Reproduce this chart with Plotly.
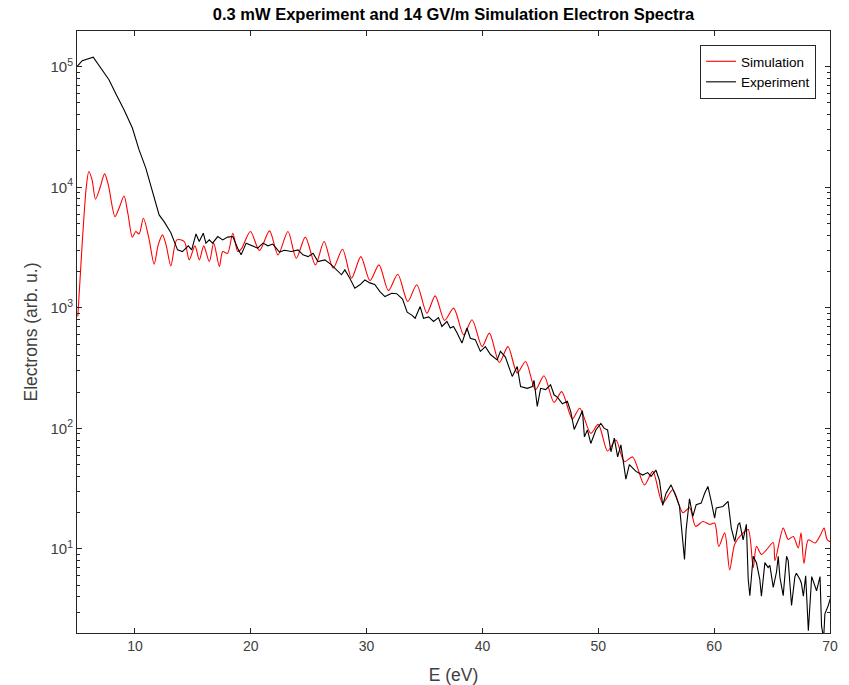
import plotly.graph_objects as go

# ---------------- data ----------------
sim_E = [5.07, 5.45, 5.8, 6.02, 6.3, 6.6, 7.0, 7.38, 7.7, 8.28, 8.7, 9.06, 9.4, 9.78,
         10.07, 10.36, 10.73, 11.2, 11.66, 12.0, 12.38, 12.7, 13.1, 13.62, 14.26, 14.69,
         15.18, 15.56, 15.94, 16.42, 16.8, 17.29, 17.58, 18.0, 18.45, 18.88, 19.2, 19.97,
         20.75, 21.62, 22.35, 23.21, 23.93, 24.71, 25.58, 26.33, 27.11, 27.92, 28.7, 29.5,
         30.29, 31.07, 31.88, 32.69, 33.55, 34.33, 35.2, 35.92, 36.73, 37.51, 38.38, 39.1,
         39.97, 40.6, 41.46, 42.2, 43.0, 43.72, 44.58, 45.31, 46.18, 46.84, 47.76, 48.4,
         49.35, 50.0, 50.8, 51.52, 52.25, 52.96, 53.98, 54.7, 55.56, 56.43, 57.3, 57.88,
         58.4, 59.03, 59.61, 60.04, 60.4, 60.91, 61.34, 61.78, 62.5, 62.94, 63.37, 63.65,
         64.08, 64.5, 65.1, 65.25, 65.96, 66.39, 66.83, 67.26, 67.5, 67.75, 68.13, 68.71,
         69.2, 69.49, 69.77, 70.3]
sim_val = [847, 3440, 10000, 13500, 11500, 7960, 10000, 12900, 10500, 5710, 7000, 8470, 6000, 3850,
           4290, 4100, 5540, 3800, 2300, 3300, 4030, 3300, 2230, 3660, 3545, 2500,
           3265, 2500, 3265, 2420, 3440, 2200, 2930, 2830, 4160, 2930, 3100, 4290,
           2985, 4345, 2750, 4290, 2580, 3855, 2270, 3545, 2130, 3065, 1762, 2660,
           1683, 2270, 1390, 1900, 1128, 1552, 904, 1257, 785, 995, 597, 796,
           477, 617, 352, 477, 288, 359, 209, 273, 164, 202, 120, 147,
           91, 108, 65, 80, 53, 58, 34, 44, 24, 31, 20, 22,
           15.4, 16.9, 16, 16.4, 10.5, 13.6, 6.7, 11, 13.6, 14.5, 7.0, 10.5,
           9.0, 9.8, 11.3, 8.0, 14.9, 12.0, 12.7, 10.2, 13.6, 7.6, 11.9, 11.2,
           13.2, 14.9, 11.9, 11.2]

exp_E = [5.0, 5.45, 6.4, 7.04, 7.76, 8.34, 9.06, 9.78, 10.36, 10.94, 11.52, 12.09, 12.52,
         13.1, 13.68, 14.1, 14.6, 14.9, 15.27, 15.55, 15.9, 16.13, 16.42, 16.7, 17.15,
         17.58, 18.0, 18.45, 18.88, 19.17, 19.6, 20.03, 20.6, 21.05, 21.48, 21.9, 22.48,
         22.9, 23.5, 24.08, 24.5, 24.95, 25.38, 25.8, 26.4, 26.97, 27.4, 27.83, 28.12,
         28.55, 28.98, 29.42, 29.85, 30.28, 30.7, 31.15, 31.58, 32.17, 32.6, 33.1, 33.5,
         33.9, 34.19, 34.62, 34.91, 35.35, 35.78, 36.2, 36.5, 36.93, 37.22, 37.5, 37.8,
         38.23, 38.66, 38.95, 39.38, 39.82, 40.25, 40.69, 41.27, 41.55, 41.98, 42.57, 43.0,
         43.29, 43.87, 44.3, 44.45, 44.73, 45.02, 45.45, 45.88, 46.18, 46.5, 46.9, 47.33,
         47.62, 47.92, 48.34, 48.63, 48.8, 49.06, 49.35, 49.79, 50.22, 50.51, 50.8, 51.09,
         51.38, 51.67, 51.95, 52.38, 52.68, 53.25, 53.83, 54.26, 54.55, 54.98, 55.28, 55.56,
         55.85, 56.28, 56.72, 57.01, 57.44, 57.58, 57.87, 58.16, 58.45, 58.88, 59.18, 59.46,
         59.75, 60.04, 60.18, 60.76, 61.2, 61.48, 61.78, 62.07, 62.21, 62.5, 62.78, 62.94,
         63.08, 63.37, 63.65, 63.94, 64.08, 64.38, 64.66, 64.81, 65.1, 65.39, 65.53, 65.68,
         65.96, 66.25, 66.39, 66.54, 66.68, 66.97, 67.1, 67.4, 67.53, 67.7, 67.9, 68.13,
         68.42, 68.84, 69.14, 69.27, 69.45, 69.56, 69.85, 70.14]
exp_val = [100000, 112000, 120000, 97000, 78000, 60000, 44000, 31000, 20400, 14400, 9000, 5900, 5190,
           4200, 3025, 2930, 3270, 3025, 4100, 3545, 4160, 3440, 3660, 3440, 3900,
           3660, 3860, 3900, 3100, 2750, 3440, 3300, 3125, 3440, 3270, 3380, 2900,
           3000, 2930, 3025, 2750, 2660, 2830, 2420, 2500, 2270, 2065, 1880, 2065,
           1762, 1456, 1552, 1700, 1610, 1560, 1365, 1240, 1320, 1310, 1180, 920,
           870, 820, 1025, 820, 840, 770, 830, 700, 770, 680, 700, 620,
           510, 680, 560, 545, 435, 477, 410, 370, 435, 390, 270, 326,
           222, 215, 222, 250, 152, 215, 210, 230, 190, 180, 160, 168,
           138, 98, 120, 140, 85, 97, 75, 97, 110, 100, 97, 64,
           83, 58, 73, 38, 50, 44, 41, 43, 40, 45, 37, 23,
           29, 34, 27, 22.5, 8.2, 14.4, 26, 18.6, 23.3, 24, 29, 33,
           24.8, 18, 21.9, 22.5, 24.8, 14.9, 11.5, 16, 16.4, 11.9, 16, 5.6,
           4.1, 8.7, 7.7, 5.6, 4.05, 7.7, 7.0, 7.3, 4.8, 6.5, 8.7, 5.8,
           4.1, 8.7, 8.0, 5.2, 3.4, 5.9, 6.3, 5.6, 5.2, 4.05, 6.0, 2.1,
           5.9, 4.5, 5.9, 2.3, 1.8, 2.9, 3.4, 4.2]

x_ticks = [10, 20, 30, 40, 50, 60, 70]
y_ticks = [1e1, 1e2, 1e3, 1e4, 1e5]
y_ticktext = ["10<sup>1</sup>", "10<sup>2</sup>", "10<sup>3</sup>", "10<sup>4</sup>", "10<sup>5</sup>"]
y_minor = [m * 10 ** k for k in range(0, 6) for m in range(2, 10)]

# ---------------- figure ----------------
AX = "#262626"
LBL = "#404040"
FONT = "Liberation Sans, Arial, Helvetica, sans-serif"

L, R, T, B = 77, 830, 31, 633
W, H = 849, 685

fig = go.Figure()
fig.add_trace(go.Scatter(x=sim_E, y=sim_val, mode="lines", name="Simulation",
                         line=dict(color="#ff0000", width=1.1, shape="spline", smoothing=0.8)))
fig.add_trace(go.Scatter(x=exp_E, y=exp_val, mode="lines", name="Experiment",
                         line=dict(color="#000000", width=1.1)))

fig.update_layout(
    width=W, height=H,
    margin=dict(l=L, r=W - R, t=T, b=H - B, autoexpand=False),
    paper_bgcolor="white", plot_bgcolor="white",
    font=dict(family=FONT, color=LBL, size=14),
    title=dict(text="<b>0.3 mW Experiment and 14 GV/m Simulation Electron Spectra</b>",
               x=(L + R) / 2 / W, xanchor="center", y=1 - 14 / H, yanchor="middle",
               font=dict(family=FONT, size=16.5, color="#000000")),
    showlegend=True,
    legend=dict(x=(816 - L) / (R - L), y=(B - 45) / (B - T), xanchor="right", yanchor="top",
                bgcolor="white", bordercolor=AX, borderwidth=1,
                font=dict(family=FONT, size=13.5, color="#000000"),
                tracegroupgap=0, itemwidth=30),
    xaxis=dict(range=[5, 70], tickvals=x_ticks, ticks="inside", ticklen=5,
               tickcolor=AX, showline=True, linecolor=AX, linewidth=1, mirror="ticks",
               showgrid=False, zeroline=False, automargin=False,
               tickfont=dict(family=FONT, size=14, color=LBL),
               title=dict(text="E (eV)", font=dict(family=FONT, size=17.5, color=LBL), standoff=15)),
    yaxis=dict(type="log", range=[0.303, 5.296], tickvals=y_ticks, ticktext=y_ticktext,
               ticks="inside", ticklen=5, tickcolor=AX, showline=True, linecolor=AX,
               linewidth=1, mirror="ticks", showgrid=False, zeroline=False, automargin=False,
               tickfont=dict(family=FONT, size=15, color=LBL),
               minor=dict(tickmode="array", tickvals=y_minor, ticks="inside", ticklen=3,
                          tickcolor=AX, showgrid=False),
               title=dict(text="Electrons (arb. u.)", font=dict(family=FONT, size=17.5, color=LBL),
                          standoff=8)),
)

fig.write_html("out.html", config={"displayModeBar": False},
               post_script="document.body.style.margin='0';document.body.style.overflow='hidden';")
